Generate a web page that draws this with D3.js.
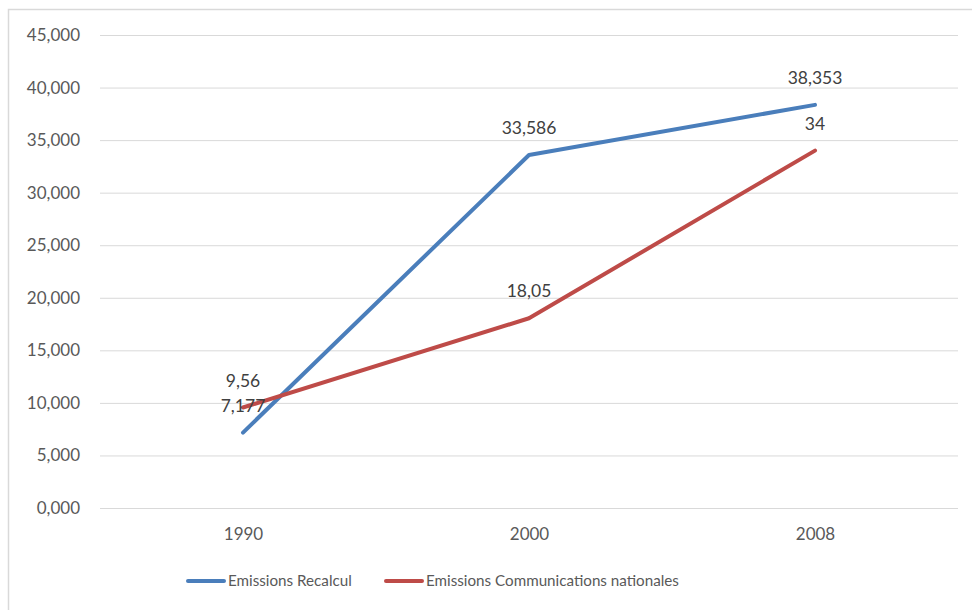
<!DOCTYPE html>
<html>
<head>
<meta charset="utf-8">
<script src="https://cdn.jsdelivr.net/npm/d3@7"></script>
<style>
  html, body { margin: 0; padding: 0; background: #fff; }
  svg { display: block; font-family: Lato, "Open Sans", sans-serif; }
</style>
</head>
<body>
<svg id="chart" width="972" height="610"></svg>
<script>
// Emissions by year
const years = ["1990", "2000", "2008"];
const recalcul = [7.177, 33.586, 38.353];
const communications = [9.56, 18.05, 34];
const recalculLabels = ["7,177", "33,586", "38,353"];
const communicationsLabels = ["9,56", "18,05", "34"];
const yTicks = [0, 5, 10, 15, 20, 25, 30, 35, 40, 45];
const seriesNames = ["Emissions Recalcul", "Emissions Communications nationales"];
const seriesColors = ["#4A7EBB", "#BE4B48"];

const svg = d3.select("#chart");
const W = 972, H = 610;
const plot = { left: 100, right: 958, top: 35, bottom: 508 };

// chart frame
svg.append("rect")
  .attr("x", 8.5).attr("y", 9.5)
  .attr("width", W + 10).attr("height", H + 10)
  .attr("fill", "#fff")
  .attr("stroke", "#d9d9d9").attr("stroke-width", 1.5);

const x = d3.scalePoint().domain(years)
  .range([plot.left, plot.right]).padding(0.5);
const y = d3.scaleLinear().domain([0, 45])
  .range([plot.bottom, plot.top]);

// tick values shown with three decimals and a decimal comma
const tickText = v => d3.format(".3f")(v).replace(".", ",");

// gridlines
const yAxis = d3.axisLeft(y).tickValues(yTicks).tickSize(-(plot.right - plot.left)).tickFormat(tickText);
const gy = svg.append("g").attr("transform", `translate(${plot.left},0)`).call(yAxis);
gy.select(".domain").remove();
gy.selectAll(".tick line").attr("stroke", "#d9d9d9").attr("stroke-width", 1);
gy.selectAll(".tick text")
  .attr("x", -20)
  .attr("fill", "#595959")
  .attr("font-size", 17)
  .attr("font-family", "Lato, 'Open Sans', sans-serif");

// category axis
const xAxis = d3.axisBottom(x).tickSize(0);
const gx = svg.append("g").attr("transform", `translate(0,${plot.bottom})`).call(xAxis);
gx.select(".domain").remove();
gx.selectAll(".tick text")
  .attr("y", 20)
  .attr("fill", "#595959")
  .attr("font-size", 17)
  .attr("font-family", "Lato, 'Open Sans', sans-serif");

const line = d3.line().x((d, i) => x(years[i])).y(d => y(d));

const series = [
  { values: recalcul, labels: recalculLabels, color: seriesColors[0] },
  { values: communications, labels: communicationsLabels, color: seriesColors[1] }
];

series.forEach(s => {
  svg.append("path")
    .datum(s.values)
    .attr("d", line)
    .attr("fill", "none")
    .attr("stroke", s.color)
    .attr("stroke-width", 4)
    .attr("stroke-linejoin", "round")
    .attr("stroke-linecap", "round");
});

// data labels above each point
series.forEach(s => {
  svg.append("g").selectAll("text")
    .data(s.values)
    .join("text")
    .attr("x", (d, i) => x(years[i]))
    .attr("y", d => y(d) - 21)
    .attr("text-anchor", "middle")
    .attr("fill", "#404040")
    .attr("font-size", 17.5)
    .text((d, i) => s.labels[i]);
});

// legend
const legendItems = [
  { name: seriesNames[0], color: seriesColors[0], x0: 188 },
  { name: seriesNames[1], color: seriesColors[1], x0: 386 }
];
const lg = svg.append("g");
legendItems.forEach(it => {
  lg.append("line")
    .attr("x1", it.x0).attr("x2", it.x0 + 36)
    .attr("y1", 581).attr("y2", 581)
    .attr("stroke", it.color).attr("stroke-width", 4)
    .attr("stroke-linecap", "round");
  lg.append("text")
    .attr("x", it.x0 + 40).attr("y", 581)
    .attr("dy", "0.35em")
    .attr("fill", "#595959")
    .attr("font-size", 15.2)
    .text(it.name);
});
</script>
</body>
</html>
